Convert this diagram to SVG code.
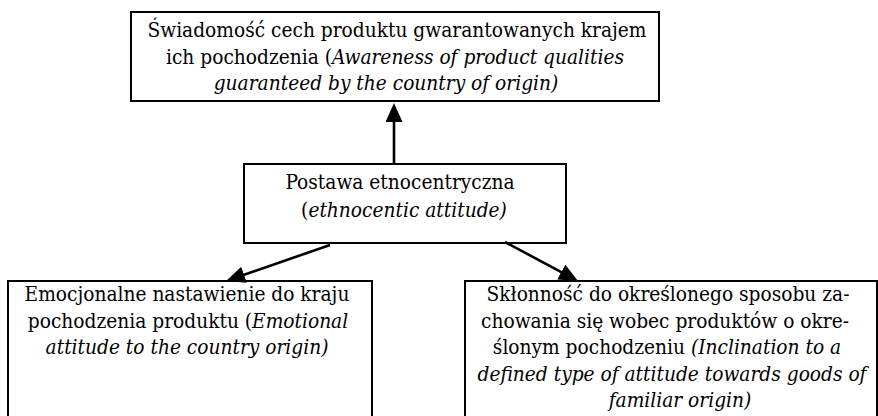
<svg xmlns="http://www.w3.org/2000/svg" width="878" height="416" viewBox="0 0 878 416">
<defs>
<style>
.box{fill:#fff;stroke:#000;stroke-width:2}
.t{font-family:'DejaVu Serif Condensed','DejaVu Serif',serif;font-stretch:condensed;font-size:20.7px;fill:#000;text-anchor:middle}
.i{font-style:italic}
.c{stroke:#000;stroke-width:2.6;fill:none}
</style>
<marker id="ah" viewBox="0 0 19 17" refX="9" refY="8.5" markerWidth="19" markerHeight="17" markerUnits="userSpaceOnUse" orient="auto">
<path d="M0,0 L19,8.5 L0,17 z" fill="#000"/>
</marker>
</defs>
<rect width="878" height="416" fill="#fff"/>
<g id="n-top">
<rect class="box" x="131" y="12" width="528" height="89"/>
<text class="t" x="397" y="37">Świadomość cech produktu gwarantowanych krajem</text>
<text class="t" x="395" y="63.5">ich pochodzenia (<tspan class="i">Awareness of product qualities</tspan></text>
<text class="t i" x="386" y="90">guaranteed by the country of origin)</text>
</g>
<g id="n-mid">
<rect class="box" x="244" y="164" width="322" height="79"/>
<text class="t" x="400" y="189">Postawa etnocentryczna</text>
<text class="t" x="404" y="217">(<tspan class="i">ethnocentic attitude)</tspan></text>
</g>
<g id="n-left">
<rect class="box" x="8" y="281" width="364" height="145"/>
<text class="t" x="187" y="301">Emocjonalne nastawienie do kraju</text>
<text class="t" x="188" y="327.5">pochodzenia produktu (<tspan class="i">Emotional</tspan></text>
<text class="t i" x="187" y="354">attitude to the country origin)</text>
</g>
<g id="n-right">
<rect class="box" x="465" y="281" width="412" height="145"/>
<text class="t" x="668" y="301">Skłonność do określonego sposobu za-</text>
<text class="t" x="665" y="327.5">chowania się wobec produktów o okre-</text>
<text class="t" x="667" y="354">ślonym pochodzeniu <tspan class="i">(Inclination to a</tspan></text>
<text class="t i" x="672" y="380.5">defined type of attitude towards goods of</text>
<text class="t i" x="680" y="407">familiar origin)</text>
</g>
<g id="connectors">
<line class="c" x1="394" y1="164" x2="394" y2="113" marker-end="url(#ah)"/>
<line class="c" x1="330" y1="245" x2="235.5" y2="277.7" marker-end="url(#ah)"/>
<line class="c" x1="505" y1="242" x2="569.2" y2="276.3" marker-end="url(#ah)"/>
</g>
</svg>
